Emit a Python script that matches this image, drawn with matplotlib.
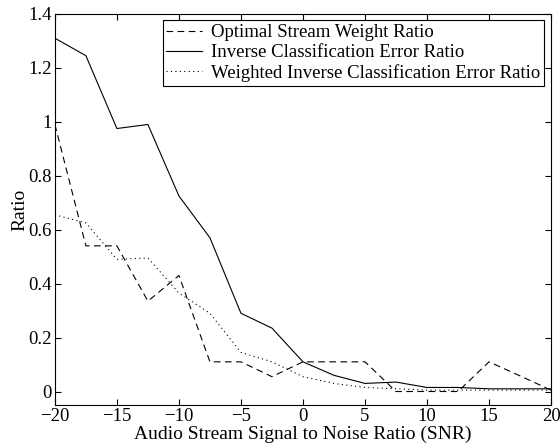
import matplotlib
matplotlib.use("Agg")
import matplotlib.pyplot as plt
import numpy as np

snr = [-20, -17.5, -15, -12.5, -10, -7.5, -5, -2.5, 0, 2.5, 5, 7.5, 10, 12.5, 15, 17.5, 20]
optimal = [0.99, 0.54, 0.54, 0.335, 0.43, 0.11, 0.11, 0.055, 0.11, 0.11, 0.11, 0.0, 0.0, 0.0, 0.11, 0.058, 0.005]
inverse = [1.31, 1.245, 0.975, 0.99, 0.725, 0.57, 0.29, 0.235, 0.11, 0.06, 0.03, 0.035, 0.015, 0.015, 0.01, 0.01, 0.01]
weighted = [0.655, 0.625, 0.49, 0.495, 0.365, 0.29, 0.145, 0.11, 0.055, 0.03, 0.015, 0.01, 0.005, 0.005, 0.005, 0.005, 0.005]

plt.rcParams["font.family"] = ["Liberation Serif", "DejaVu Serif"]

fig = plt.figure(figsize=(5.6, 4.48), dpi=100)
ax = fig.add_axes([0.098, 0.096, 0.886, 0.873])

ax.plot(snr, optimal, color="black", lw=0.8, ls=(0, (6, 4)), label="Optimal Stream Weight Ratio")
ax.plot(snr, inverse, color="black", lw=0.8, ls="-", label="Inverse Classification Error Ratio")
ax.plot(snr, weighted, color="black", lw=0.8, ls=(0, (1, 3)), label="Weighted Inverse Classification Error Ratio")

ax.set_xlim(-20, 20)
ax.set_ylim(-0.05, 1.4)
ax.set_xticks([-20, -15, -10, -5, 0, 5, 10, 15, 20])
ax.set_yticks([0, 0.2, 0.4, 0.6, 0.8, 1, 1.2, 1.4])
ax.set_yticklabels(["0", "0.2", "0.4", "0.6", "0.8", "1", "1.2", "1.4"])
ax.set_xticklabels(["\u221220", "\u221215", "\u221210", "\u22125", "0", "5", "10", "15", "20"])
ax.tick_params(direction="in", top=True, right=True, labelsize=13.5, length=4, width=0.8, pad=2)
for s in ax.spines.values():
    s.set_linewidth(0.8)

ax.set_xlabel("Audio Stream Signal to Noise Ratio (SNR)", fontsize=14, labelpad=1)
ax.set_ylabel("Ratio", fontsize=14, labelpad=0)

leg = ax.legend(loc="upper right", fontsize=13.5, fancybox=False, framealpha=1,
                edgecolor="black", handlelength=1.9, borderpad=0.2, labelspacing=0.15,
                borderaxespad=0.35, handletextpad=0.5)
leg.get_frame().set_linewidth(0.8)

fig.savefig("out.png", dpi=100)
